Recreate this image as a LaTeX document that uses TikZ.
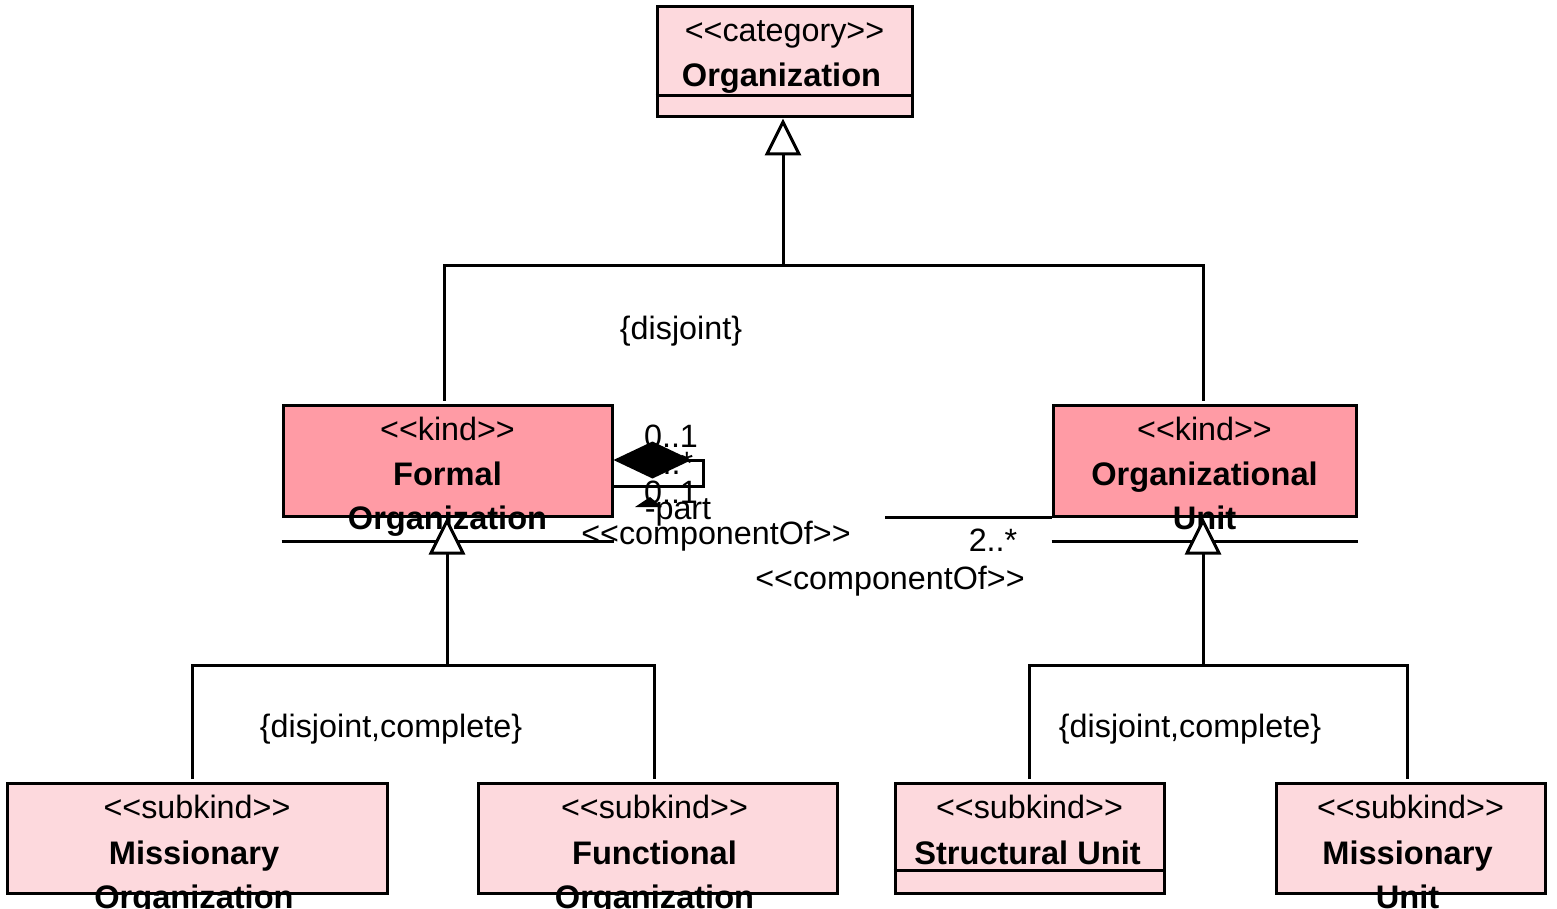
\documentclass[tikz,border=0pt]{standalone}
\usepackage{fontspec}
\setmainfont[Ligatures=TeXOff]{Liberation Sans}
\usetikzlibrary{arrows.meta}
\definecolor{lightpink}{RGB}{253,217,221}
\definecolor{kindpink}{RGB}{255,155,165}
\def\st#1{<<#1>>}
\begin{document}
\begin{tikzpicture}[x=1pt,y=-1pt,line width=3pt,line join=miter,
    every node/.style={inner sep=0pt,font=\fontsize{32.3}{39}\selectfont},
    subbox/.style={draw,fill=lightpink,minimum height=110pt},
    kindbox/.style={draw,fill=kindpink,minimum height=111pt},
    stereo/.style={anchor=base},
    clsname/.style={anchor=base,font=\fontsize{32.6}{39}\selectfont\bfseries},
    gen/.style={-{Triangle[fill=white,length=37pt,width=36pt]}},
    tree/.style={shorten <=3pt}]
    \useasboundingbox (0,0) rectangle (1557,909);
    % classes
    \node[subbox,minimum width=255pt] (org) at (784.5,62) {};
    \draw (org.west |- 0,96) -- (org.east |- 0,96);
    \node[kindbox,minimum width=329pt] (fo) at (447.5,460.5) {};
    \node[kindbox,minimum width=303pt] (ou) at (1204.5,460.5) {};
    \node[subbox,minimum width=380pt] (mo) at (197,838.5) {};
    \node[subbox,minimum width=359pt] (fu) at (657.5,838.5) {};
    \node[subbox,minimum width=269pt] (su) at (1029.5,838.5) {};
    \draw (su.west |- 0,870) -- (su.east |- 0,870);
    \node[subbox,minimum width=269pt] (mu) at (1410.5,838.5) {};
    \draw ([yshift=-24pt]fo.south west) -- ([yshift=-24pt]fo.south east);
    \draw ([yshift=-24pt]ou.south west) -- ([yshift=-24pt]ou.south east);
    % class texts
    \node[stereo] (orgS) at ([yshift=-36pt]org.north) {\st{category}};
    \node[clsname] (orgN) at ([xshift=-3pt,yshift=-81pt]org.north) {Organization};
    \node[stereo] (foS) at ([yshift=-37pt]fo.north) {\st{kind}};
    \node[clsname] (foN) at ([yshift=-82pt]fo.north) {Formal};
    \node[clsname] (foM) at ([yshift=-126pt]fo.north) {Organization};
    \node[stereo] (ouS) at ([yshift=-37pt]ou.north) {\st{kind}};
    \node[clsname] (ouN) at ([yshift=-82pt]ou.north) {Organizational};
    \node[clsname] (ouM) at ([yshift=-126pt]ou.north) {Unit};
    \node[stereo] (moS) at ([yshift=-36pt]mo.north) {\st{subkind}};
    \node[clsname] (moN) at ([xshift=-3pt,yshift=-82pt]mo.north) {Missionary};
    \node[clsname] (moM) at ([xshift=-3pt,yshift=-126pt]mo.north) {Organization};
    \node[stereo] (fuS) at ([xshift=-3pt,yshift=-36pt]fu.north) {\st{subkind}};
    \node[clsname] (fuN) at ([xshift=-3pt,yshift=-82pt]fu.north) {Functional};
    \node[clsname] (fuM) at ([xshift=-3pt,yshift=-126pt]fu.north) {Organization};
    \node[stereo] (suS) at ([yshift=-36pt]su.north) {\st{subkind}};
    \node[clsname] (suN) at ([xshift=-2pt,yshift=-82pt]su.north) {Structural Unit};
    \node[stereo] (muS) at ([yshift=-36pt]mu.north) {\st{subkind}};
    \node[clsname] (muN) at ([xshift=-3pt,yshift=-82pt]mu.north) {Missionary};
    \node[clsname] (muM) at ([xshift=-3pt,yshift=-126pt]mu.north) {Unit};
    % generalization sets
    \coordinate (g1) at (783,266);
    \coordinate (t1) at (444,266);
    \coordinate (t2) at (1203,266);
    \draw[gen] (g1) -- (g1 |- org.south);
    \draw[tree,shorten >=3pt] (t1 |- fo.north) -- (t1) -- (t2) -- (t2 |- ou.north);
    \coordinate (g2) at (447,665);
    \coordinate (t3) at (192,665);
    \coordinate (t4) at (654,665);
    \draw[gen] (g2) -- (g2 |- fo.south);
    \draw[tree,shorten >=3pt] (t3 |- mo.north) -- (t3) -- (t4) -- (t4 |- fu.north);
    \coordinate (g3) at (1203,665);
    \coordinate (t5) at (1029,665);
    \coordinate (t6) at (1407,665);
    \draw[gen] (g3) -- (g3 |- ou.south);
    \draw[tree,shorten >=3pt] (t5 |- su.north) -- (t5) -- (t6) -- (t6 |- mu.north);
    \node[stereo] (d1) at (681,339) {\{disjoint\}};
    \node[stereo] (d2) at (391,737) {\{disjoint,complete\}};
    \node[stereo,fill=white,inner xsep=23pt,inner ysep=7pt] (d3) at (1190,737) {\{disjoint,complete\}};
    % componentOf associations
    \node[stereo] (m1) at (671,447) {0..1};
    \node[stereo] (m2) at (669,474) {1..*};
    \node[stereo] (m3) at (671,503) {0..1};
    \node[stereo] (r1) at (678,519) {-part};
    \node[stereo] (c1) at (716,544) {\st{componentOf}};
    \node[stereo] (m4) at (993,551) {2..*};
    \node[stereo] (c2) at (890,589) {\st{componentOf}};
    \coordinate (s1) at (703,460);
    \coordinate (s2) at (703,486);
    \draw[{Diamond[length=78pt,width=37pt]}-] (fo.east |- s1) -- (s1) -- (s2) -- (fo.east |- s2);
    \fill (635,507) -- (650,497) -- (662,507) -- cycle;
    \coordinate (a1) at (ou.south west -| 885,0);
    \draw (ou.south west) -- (a1);
\end{tikzpicture}
\end{document}
